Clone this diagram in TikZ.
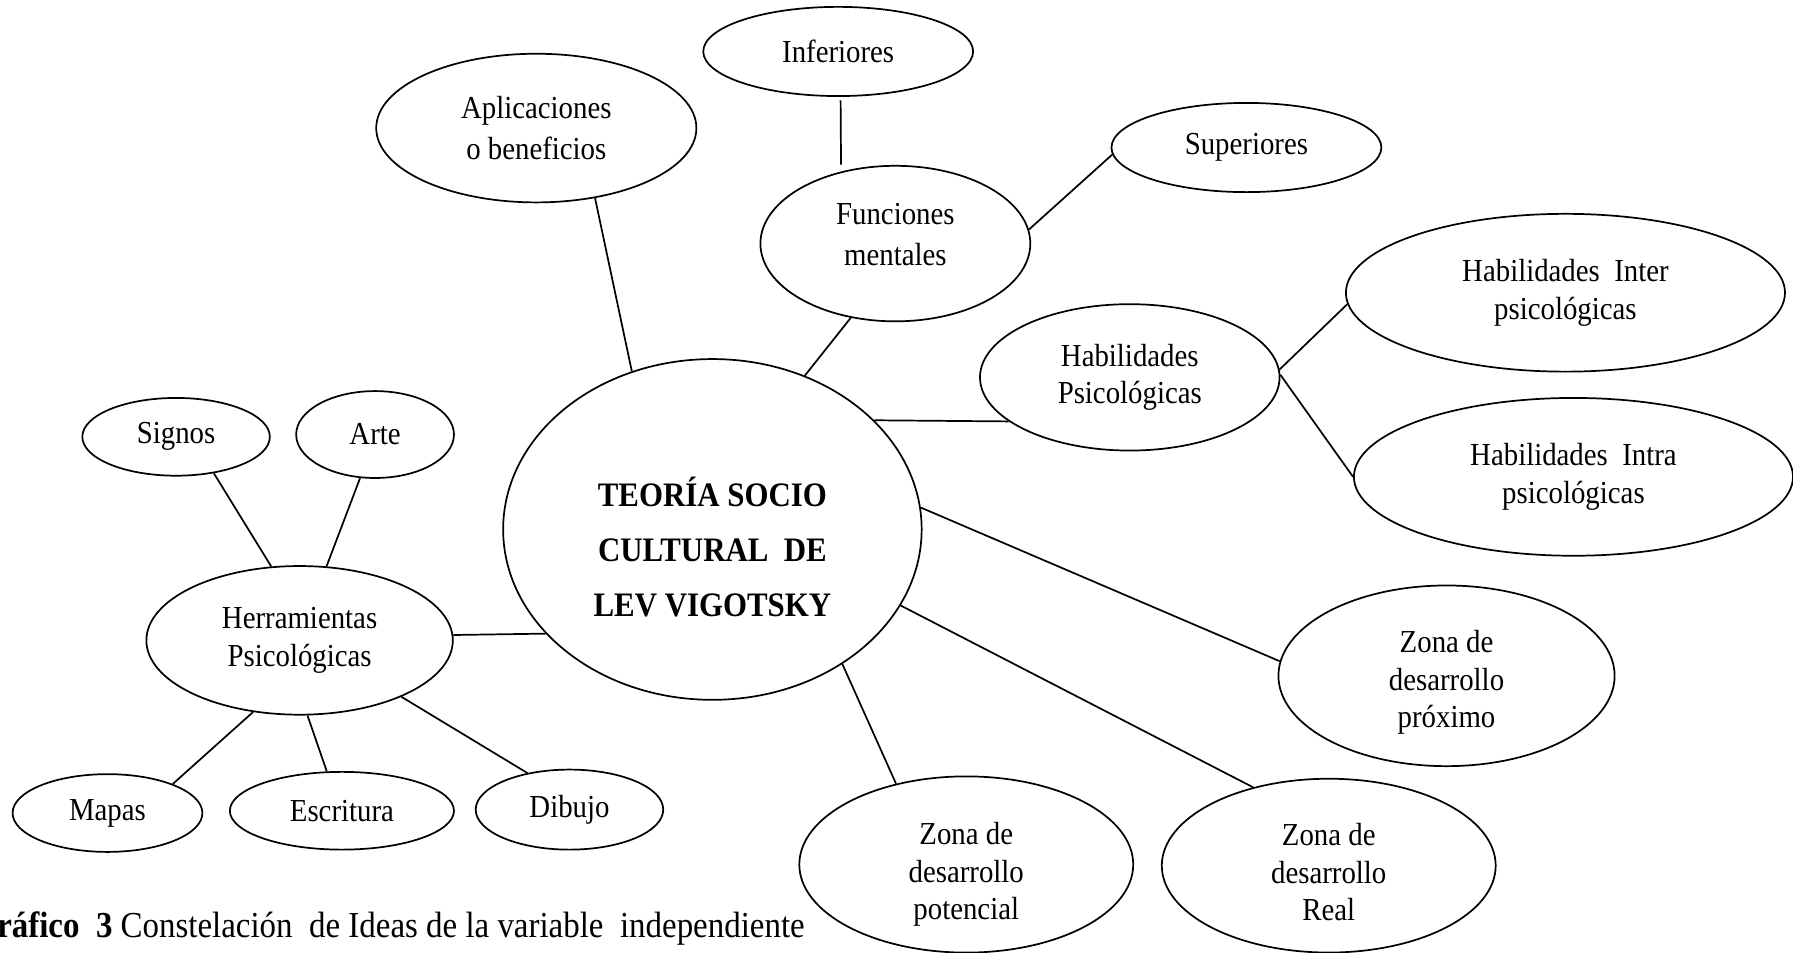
\documentclass[tikz,border=0pt]{standalone}
\usepackage{fontspec}
\setmainfont{Liberation Serif}[FakeStretch=0.9]
\usetikzlibrary{shapes.geometric}
\begin{document}
\begin{tikzpicture}[x=1pt,y=-1pt,
  bub/.style={ellipse,draw,line width=1.5pt,inner sep=0pt,align=center,
    font=\fontsize{28}{33}\selectfont},
  wide/.style={font=\fontsize{28}{36}\selectfont},
  con/.style={line width=1.5pt}]
\useasboundingbox (0,0) rectangle (1568,833);
\clip (0,0) rectangle (1568,833);
% central node
\node[bub,minimum width=366pt,minimum height=298pt,
  font=\bfseries\fontsize{30}{48}\selectfont] (c) at (623,463)
  {\rule{0pt}{56pt}TEORÍA SOCIO\\CULTURAL\ \ DE\\LEV VIGOTSKY};
% upper nodes
\node[bub,wide,minimum width=280pt,minimum height=130pt] (aplic) at (469,112) {Aplicaciones\\o beneficios};
\node[bub,minimum width=236pt,minimum height=78pt] (infer) at (733,45) {Inferiores};
\node[bub,wide,minimum width=236pt,minimum height=136pt] (func) at (783,213) {Funciones\\mentales\rule[-16pt]{0pt}{0pt}};
\node[bub,minimum width=236pt,minimum height=78pt] (super) at (1090,129) {Superiores};
% right nodes
\node[bub,minimum width=262pt,minimum height=128pt] (habpsi) at (988,330) {Habilidades\\Psicológicas};
\node[bub,minimum width=384pt,minimum height=138pt] (inter) at (1369,256) {Habilidades\ \ Inter\\psicológicas};
\node[bub,minimum width=384pt,minimum height=138pt] (intra) at (1376,417) {Habilidades\ \ Intra\\psicológicas};
\node[bub,minimum width=294pt,minimum height=158pt] (prox) at (1265,591) {\rule{0pt}{31pt}Zona de\\desarrollo\\próximo};
\node[bub,minimum width=292pt,minimum height=152pt] (real) at (1162,757) {\rule{0pt}{31pt}Zona de\\desarrollo\\Real};
\node[bub,minimum width=292pt,minimum height=152pt] (pot) at (845,756) {\rule{0pt}{37pt}Zona de\\desarrollo\\potencial};
% left nodes
\node[bub,minimum width=268pt,minimum height=130pt] (herr) at (262,560) {Herramientas\\Psicológicas};
\node[bub,minimum width=164pt,minimum height=68pt] (signos) at (154,382) {Signos};
\node[bub,minimum width=138pt,minimum height=76pt] (arte) at (328,380) {Arte};
\node[bub,minimum width=166pt,minimum height=68pt] (mapas) at (94,711) {Mapas};
\node[bub,minimum width=196pt,minimum height=68pt] (escr) at (299,709) {Escritura};
\node[bub,minimum width=164pt,minimum height=70pt] (dibujo) at (498,708) {Dibujo};
% connectors
\draw[con] (aplic.-50) -- (c.117);
\draw[con,shorten <=3pt,shorten >=6pt] (infer.-87) -- (func.127.7);
\draw[con] (super.183.4) -- (func.6.3);
\draw[con] (func.239.3) -- (c.59.7);
\draw[con] (c.34.3) -- (habpsi.200.4);
\draw[con] (habpsi.3) -- (inter.183);
\draw[con] (habpsi.1) -- (intra.180.6);
\draw[con] (c.6) -- (prox.175.7);
\draw[con] (c.-22.3) -- (real.134.2);
\draw[con] (c.-46.7) -- (pot.131);
\draw[con] (c.212) -- (herr.2.5);
\draw[con] (signos.-44.2) -- (herr.111.8);
\draw[con] (arte.251.1) -- (herr.70.8);
\draw[con] (herr.237.5) -- (mapas.24.1);
\draw[con] (herr.-84) -- (escr.111.8);
\draw[con] (herr.-29.5) -- (dibujo.139.3);
% caption
\node[anchor=base west,inner sep=0pt,font=\fontsize{32}{38}\selectfont] (cap) at (-25,820)
  {\textbf{Gráfico\ \ 3} Constelación\ \ de Ideas de la variable\ \ independiente};
\end{tikzpicture}
\end{document}
